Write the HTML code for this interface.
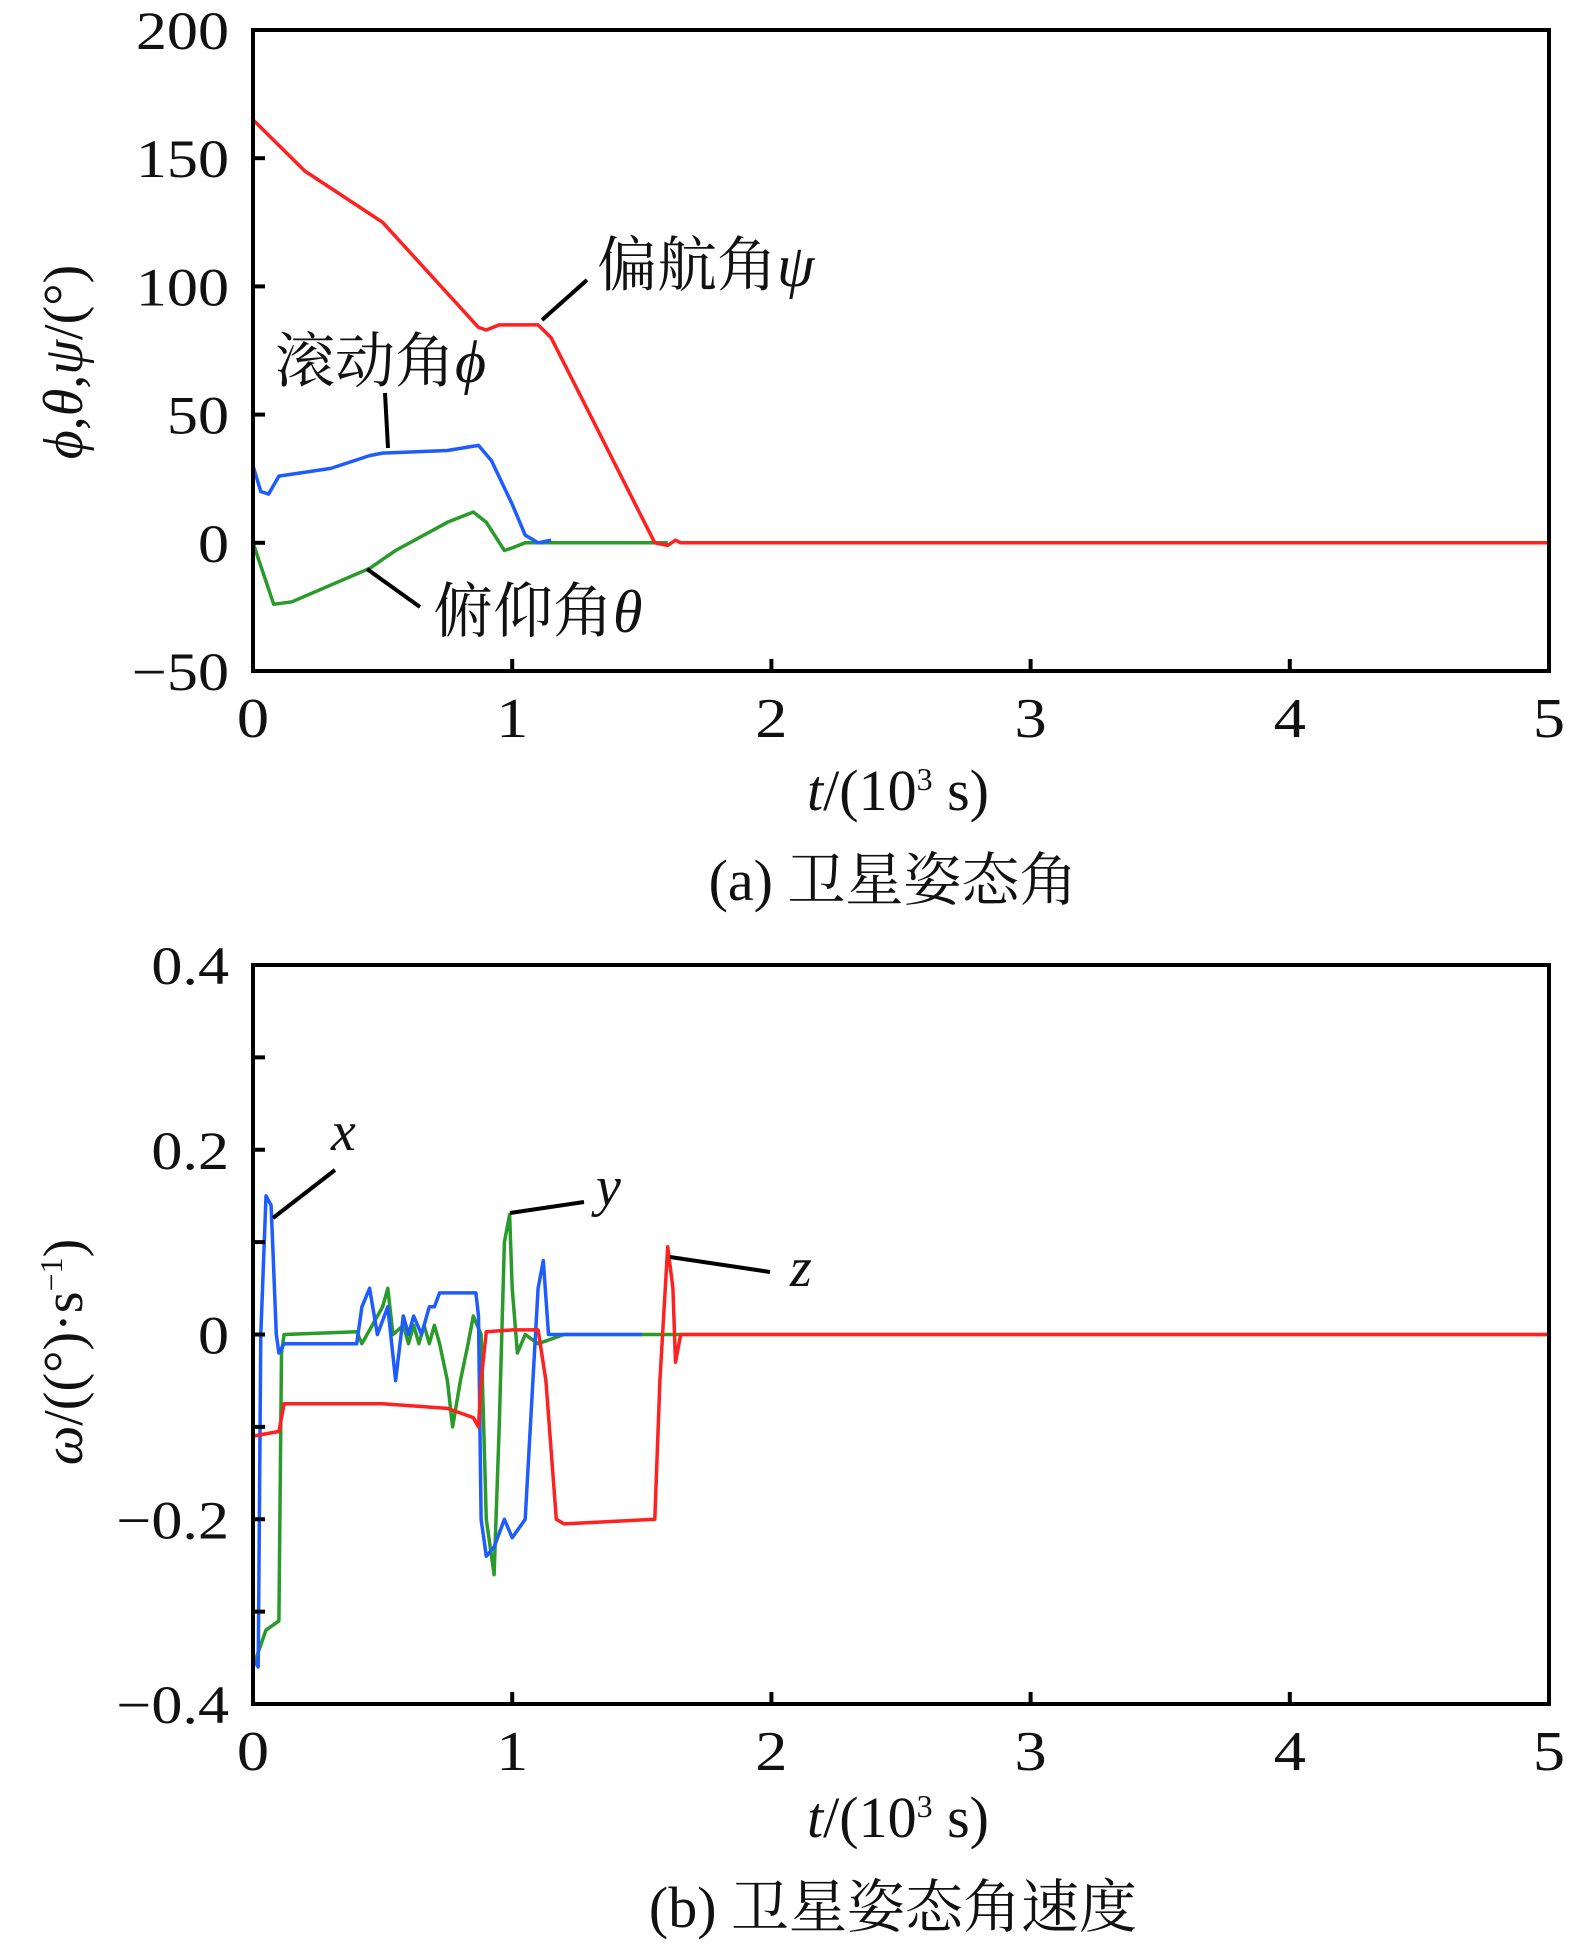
<!DOCTYPE html>
<html><head><meta charset="utf-8">
<style>
body{margin:0;background:#fff;}
svg{display:block;}
text{font-family:"Liberation Serif","Noto Serif CJK SC",serif;fill:#111;}
.cj{font-family:"Liberation Serif","Noto Serif CJK SC",serif;}
</style></head>
<body>
<svg id="fig" width="1571" height="1953" viewBox="0 0 1571 1953" xmlns="http://www.w3.org/2000/svg">
<g id="chartA"></g>
<g id="chartB"></g>
</svg>
<script>
// ---- Chart A data (t in 10^3 s, angle in deg) ----
const yawT   = [0,0.05,0.2,0.5,0.87,0.9,0.95,1.1,1.15,1.3,1.5,1.55,1.6,1.63,1.65,5];
const yawV   = [165,160,145,125,84,83,85,85,80,50,10,0,-1,1,0,0];
const rollT  = [0,0.03,0.06,0.1,0.3,0.45,0.5,0.75,0.87,0.92,1.0,1.05,1.1,1.15];
const rollV  = [30,20,19,26,29,34,35,36,38,32,15,3,0,1];
const pitchT = [0,0.08,0.15,0.45,0.55,0.75,0.85,0.9,0.97,1.0,1.05,1.6];
const pitchV = [0,-24,-23,-10,-3,8,12,8,-3,-2,0,0];
const aYTicks = [200,150,100,50,0,-50];
const aYLabels = ["200","150","100","50","0","\u221250"];
const xTicks = [0,1,2,3,4,5];
const xLabels = ["0","1","2","3","4","5"];
// ---- Chart B data ----
const wxT = [0,0.02,0.03,0.05,0.07,0.08,0.09,0.1,0.12,0.4,0.42,0.45,0.48,0.52,0.55,0.58,0.6,0.62,0.65,0.68,0.7,0.72,0.86,0.87,0.88,0.9,0.93,0.97,1.0,1.05,1.08,1.1,1.12,1.14,1.2,1.5];
const wxV = [-0.35,-0.36,0.0,0.15,0.14,0.07,0,-0.02,-0.01,-0.01,0.03,0.05,0.0,0.03,-0.05,0.02,0.0,0.02,0.0,0.03,0.03,0.045,0.045,0.02,-0.2,-0.24,-0.23,-0.2,-0.22,-0.2,-0.05,0.05,0.08,0.0,0,0];
const wyT = [0,0.05,0.1,0.11,0.12,0.4,0.42,0.5,0.52,0.54,0.58,0.6,0.62,0.64,0.66,0.68,0.7,0.72,0.75,0.77,0.8,0.83,0.85,0.88,0.9,0.93,0.95,0.97,0.99,1.0,1.02,1.05,1.1,1.2,1.7,5];
const wyV = [-0.36,-0.32,-0.31,-0.02,0.0,0.003,-0.01,0.03,0.05,0,0.01,-0.01,0.01,-0.01,0.01,-0.01,0.01,-0.01,-0.05,-0.1,-0.05,-0.01,0.02,0.0,-0.2,-0.26,-0.1,0.1,0.13,0.05,-0.02,0.0,-0.01,0.0,0,0];
const wzT = [0,0.1,0.12,0.5,0.75,0.85,0.87,0.88,0.9,1.0,1.1,1.13,1.17,1.2,1.55,1.57,1.6,1.62,1.63,1.65,5];
const wzV = [-0.11,-0.105,-0.075,-0.075,-0.08,-0.09,-0.1,-0.05,0.003,0.005,0.005,-0.05,-0.2,-0.205,-0.2,-0.05,0.095,0.05,-0.03,0,0];
const bYTicks = [0.4,0.2,0,-0.2,-0.4];
const bYLabels = ["0.4","0.2","0","\u22120.2","\u22120.4"];
const bMinor = [0.3,0.1,-0.1,-0.3];

const NS="http://www.w3.org/2000/svg";
function mk(parent,tag,attrs){const e=document.createElementNS(NS,tag);for(const k in attrs)e.setAttribute(k,attrs[k]);parent.appendChild(e);return e;}

function buildChart(g, top, bottom, ymin, ymax, yTicks, yLabels, minor, series){
  const L=253,R=1549;
  const xs=t=>L+t*(R-L)/5;
  const ys=v=>bottom-(v-ymin)*(bottom-top)/(ymax-ymin);
  series.forEach(s=>{
    let d="";
    s.t.forEach((t,i)=>{d+=(i?"L":"M")+xs(t).toFixed(1)+","+ys(s.v[i]).toFixed(1);});
    const p=mk(g,"path",{d:d,fill:"none",stroke:s.c,"stroke-width":3.5,"stroke-linejoin":"round"});
    
    
  });
  const f=mk(g,"rect",{x:L,y:top,width:R-L,height:bottom-top,fill:"none",stroke:"#000","stroke-width":4});
  
  
  yTicks.forEach((v,i)=>{
    const tk=mk(g,"line",{x1:L,x2:L+12,y1:ys(v),y2:ys(v),stroke:"#000","stroke-width":4});
    
    
    const tx=mk(g,"text",{transform:"translate("+(L-24)+","+(ys(v)+19)+") scale(1.15,1)","text-anchor":"end","font-size":54});
    tx.textContent=yLabels[i];
    
    
  });
  minor.forEach(v=>{
    const tk=mk(g,"line",{x1:L,x2:L+12,y1:ys(v),y2:ys(v),stroke:"#000","stroke-width":4});
    
    
  });
  xTicks.forEach((t,i)=>{
    const tk=mk(g,"line",{x1:xs(t),x2:xs(t),y1:bottom,y2:bottom-12,stroke:"#000","stroke-width":4});
    
    
    const tx=mk(g,"text",{transform:"translate("+xs(t)+","+(bottom+66)+") scale(1.15,1)","text-anchor":"middle","font-size":56});
    tx.textContent=xLabels[i];
    
    
  });
}
buildChart(document.getElementById("chartA"),30,671,-50,200,aYTicks,aYLabels,[],[
  {t:pitchT,v:pitchV,c:"#2a9a2a",name:"pitch-line"},
  {t:rollT,v:rollV,c:"#1f5cff",name:"roll-line"},
  {t:yawT,v:yawV,c:"#ff2020",name:"yaw-line"}]);
buildChart(document.getElementById("chartB"),965,1704,-0.4,0.4,bYTicks,bYLabels,bMinor,[
  {t:wyT,v:wyV,c:"#2a9a2a",name:"omega-y-line"},
  {t:wxT,v:wxV,c:"#1f5cff",name:"omega-x-line"},
  {t:wzT,v:wzV,c:"#ff2020",name:"omega-z-line"}]);
</script>
<svg style="position:absolute;left:0;top:0" width="1571" height="1953" xmlns="http://www.w3.org/2000/svg">
  <line x1="542" y1="320" x2="587" y2="280" stroke="#000" stroke-width="4"/>
  <text x="597" y="286" font-size="60" class="cj">偏航角<tspan font-style="italic">ψ</tspan></text>
  <line x1="385" y1="393" x2="388" y2="448" stroke="#000" stroke-width="4"/>
  <text x="275" y="382" font-size="60" class="cj">滚动角<tspan font-style="italic">ϕ</tspan></text>
  <line x1="367" y1="569" x2="420" y2="607" stroke="#000" stroke-width="4"/>
  <text x="433" y="632" font-size="60" class="cj">俯仰角<tspan font-style="italic">θ</tspan></text>
  <text transform="translate(82,362) rotate(-90)" text-anchor="middle" font-size="56"><tspan font-style="italic">ϕ</tspan>,<tspan font-style="italic">θ</tspan>,<tspan font-style="italic">ψ</tspan>/(°)</text>
  <text x="898" y="810" text-anchor="middle" font-size="58"><tspan font-style="italic">t</tspan>/(10<tspan font-size="32" dy="-20">3</tspan><tspan dy="20"> s)</tspan></text>
  <text x="893" y="900" text-anchor="middle" font-size="58" class="cj">(a) 卫星姿态角</text>
  <line x1="273" y1="1218" x2="335" y2="1170" stroke="#000" stroke-width="4"/>
  <text x="331" y="1150" font-size="56" font-style="italic">x</text>
  <line x1="510" y1="1213" x2="584" y2="1202" stroke="#000" stroke-width="4"/>
  <text x="596" y="1205" font-size="56" font-style="italic">y</text>
  <line x1="670" y1="1257" x2="770" y2="1272" stroke="#000" stroke-width="4"/>
  <text x="790" y="1286" font-size="56" font-style="italic">z</text>
  <text transform="translate(82,1352) rotate(-90)" text-anchor="middle" font-size="56"><tspan font-style="italic">ω</tspan>/((°)·s<tspan font-size="32" dy="-20">−1</tspan><tspan dy="20">)</tspan></text>
  <text x="898" y="1837" text-anchor="middle" font-size="58"><tspan font-style="italic">t</tspan>/(10<tspan font-size="32" dy="-20">3</tspan><tspan dy="20"> s)</tspan></text>
  <text x="893" y="1927" text-anchor="middle" font-size="58" class="cj">(b) 卫星姿态角速度</text>
</svg>
</body></html>
